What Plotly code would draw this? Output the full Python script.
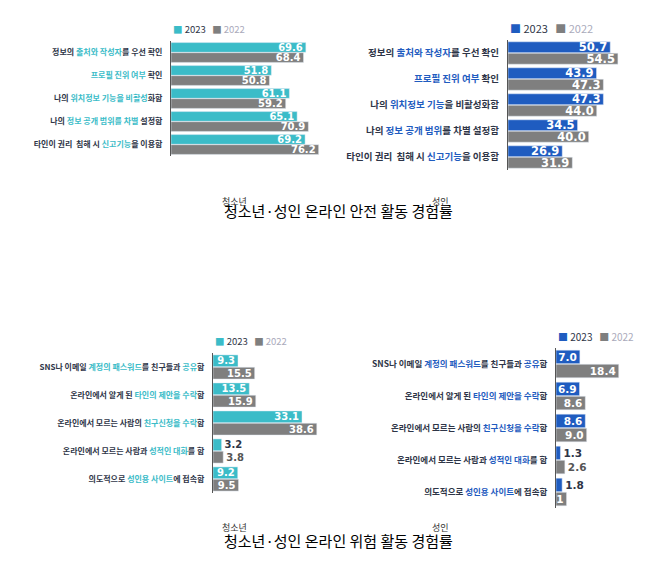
import plotly.graph_objects as go

T = "#3bbcc8"; B = "#1f5cc0"; G = "#7f7f7f"; N = "#2e3547"
def h(c, s): return f"<span style='color:{c}'>{s}</span>"

safe_cats_l = ["정보의 "+h(T,"출처와 작성자")+"를 우선 확인", h(T,"프로필 진위 여부")+" 확인",
               "나의 "+h(T,"위치정보 기능을 비활성")+"화함", "나의 "+h(T,"정보 공개 범위를 차별")+" 설정함",
               "타인이 권리  침해 시 "+h(T,"신고기능")+"을 이용함"]
safe_cats_r = ["정보의 "+h(B,"출처와 작성자")+"를 우선 확인", h(B,"프로필 진위 여부")+" 확인",
               "나의 "+h(B,"위치정보 기능")+"을 비활성화함", "나의 "+h(B,"정보 공개 범위")+"를 차별 설정함",
               "타인이 권리  침해 시 "+h(B,"신고기능")+"을 이용함"]
safe_teen_2023 = [69.6, 51.8, 61.1, 65.1, 69.2]
safe_teen_2022 = [68.4, 50.8, 59.2, 70.9, 76.2]
safe_adult_2023 = [50.7, 43.9, 47.3, 34.5, 26.9]
safe_adult_2022 = [54.5, 47.3, 44.0, 40.0, 31.9]

risk_cats_l = ["SNS나 이메일 "+h(T,"계정의 패스워드")+"를 친구들과 "+h(T,"공유")+"함",
               "온라인에서 알게 된 "+h(T,"타인의 제안을 수락")+"함",
               "온라인에서 모르는 사람의 "+h(T,"친구신청을 수락")+"함",
               "온라인에서 모르는 사람과 "+h(T,"성적인 대화")+"를 함",
               "의도적으로 "+h(T,"성인용 사이트")+"에 접속함"]
risk_cats_r = [c.replace(T, B) for c in risk_cats_l]
risk_teen_2023 = [9.3, 13.5, 33.1, 3.2, 9.2]
risk_teen_2022 = [15.5, 15.9, 38.6, 3.8, 9.5]
risk_adult_2023 = [7.0, 6.9, 8.6, 1.3, 1.8]
risk_adult_2022 = [18.4, 8.6, 9.0, 2.6, 3.1]

W, H = 659, 564
fig = go.Figure()
panels = [
    (safe_cats_l, safe_teen_2023, safe_teen_2022, T, (163, 318), (33, 148), 80, 8),
    (safe_cats_r, safe_adult_2023, safe_adult_2022, B, (500, 621), (32, 162), 60, 9.5),
    (risk_cats_l, risk_teen_2023, risk_teen_2022, T, (205, 326), (345, 485), 45, 8),
    (risk_cats_r, risk_adult_2023, risk_adult_2022, B, (548, 623), (340, 500), 22, 8.5),
]
for i, (cats, v23, v22, col, xr, yr, xmax, fs) in enumerate(panels):
    n = "" if i == 0 else str(i + 1)
    for vals, c in ((v23, col), (v22, G)):
        pos = ["inside" if v > xmax * 0.12 else "outside" for v in vals]
        tc = ["white" if p == "inside" else (N if c != G else "#555") for p in pos]
        fig.add_trace(go.Bar(y=[f"<b>{x}</b>" for x in cats], x=vals, orientation="h", marker_color=c,
                             text=[f"<b>{v:.1f}</b>" for v in vals], textposition=pos,
                             insidetextanchor="end", textangle=0, constraintext="none",
                             textfont=dict(color=tc, size=fs + 2, family="DejaVu Sans"),
                             xaxis="x" + n, yaxis="y" + n, showlegend=False, cliponaxis=False))
    fig.layout["xaxis" + n] = dict(domain=[xr[0] / W, xr[1] / W], range=[0, xmax], visible=False,
                                   anchor="y" + n)
    fig.layout["yaxis" + n] = dict(domain=[1 - yr[1] / H, 1 - yr[0] / H], autorange="reversed",
                                   anchor="x" + n, showline=True, linecolor="#555", linewidth=1,
                                   ticks="", tickfont=dict(size=fs, color=N, family="Noto Sans CJK KR"),
                                   ticklabelstandoff=6)
    lx, ly = xr[0] / W, 1 - (yr[0] - 12) / H
    fig.add_annotation(x=lx, y=ly, xref="paper", yref="paper", xanchor="left", yanchor="middle",
                       showarrow=False, font=dict(size=fs + 1.5, family="Noto Sans CJK KR"),
                       text=f"<span style='color:{col}'>■</span><span style='color:{N}'> 2023</span>   "
                            f"<span style='color:{G}'>■</span><span style='color:#aab'> 2022</span>")

fig.update_layout(barmode="group", bargap=0.12, bargroupgap=0.04, width=W, height=H,
                  margin=dict(l=0, r=0, t=0, b=0), plot_bgcolor="white", paper_bgcolor="white")

for ty, txt in ((202, "청소년·성인 온라인 안전 활동 경험률"), (545, "청소년·성인 온라인 위험 활동 경험률")):
    fig.add_annotation(x=330 / W, y=1 - ty / H, xref="paper", yref="paper", showarrow=False,
                       text=txt, font=dict(size=15, color="black", family="Noto Sans CJK KR"))
    for xx, s in ((226, "청소년"), (443, "성인")):
        fig.add_annotation(x=xx / W, y=1 - (ty - 17) / H, xref="paper", yref="paper", showarrow=False,
                           text=s, font=dict(size=9, color="#333", family="Noto Sans CJK KR"))

fig.write_html("out.html")
